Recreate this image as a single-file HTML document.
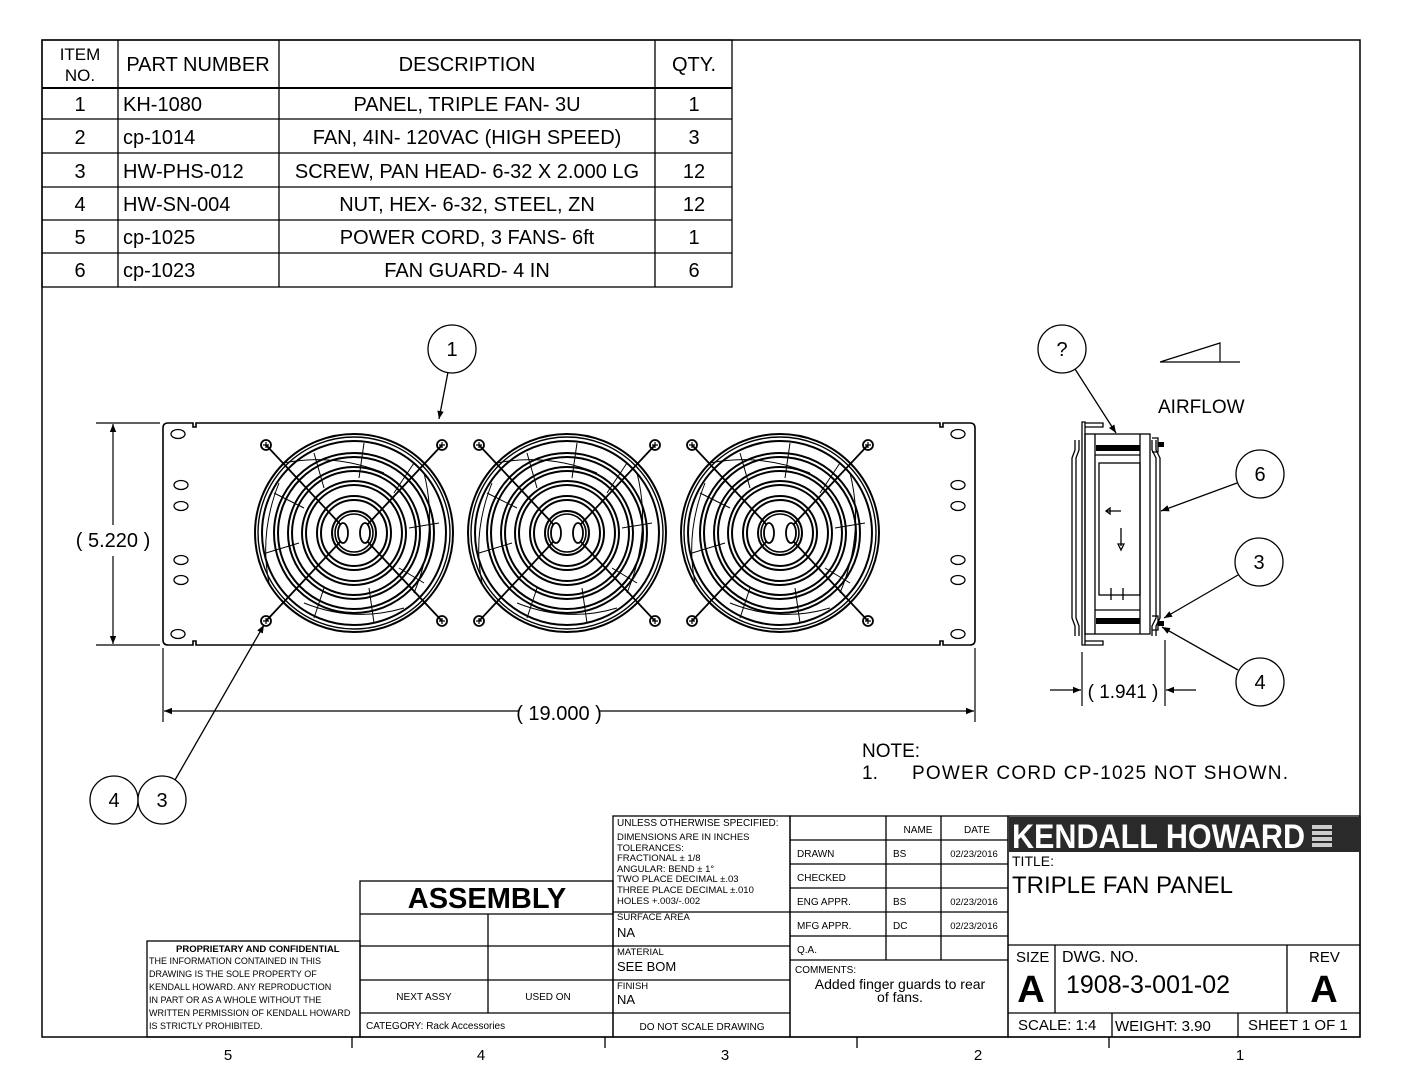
<!DOCTYPE html>
<html><head><meta charset="utf-8"><style>
html,body{margin:0;padding:0;background:#fff;}
svg{display:block;}
text{font-family:"Liberation Sans",sans-serif;fill:#000;}
</style></head><body>
<svg width="1408" height="1088" viewBox="0 0 1408 1088" xmlns="http://www.w3.org/2000/svg">
<defs>
<marker id="ar" viewBox="0 0 10 10" refX="10" refY="5" markerWidth="10" markerHeight="8" orient="auto-start-reverse" markerUnits="userSpaceOnUse"><path d="M0,1 L10,5 L0,9 z" fill="#000"/></marker>
<g id="fan" fill="none" stroke="#000">
  <circle r="99" stroke-width="2"/><circle r="96" stroke-width="1.4"/><circle r="92" stroke-width="2"/>
  <circle r="80" stroke-width="2"/><circle r="76" stroke-width="2"/>
  <circle r="66" stroke-width="2"/><circle r="62" stroke-width="2"/>
  <circle r="52" stroke-width="2"/><circle r="48" stroke-width="2"/>
  <circle r="37" stroke-width="2"/><circle r="33" stroke-width="2"/>
  <circle r="22" stroke-width="2"/><circle r="19" stroke-width="1.6"/>
  <ellipse cx="-11" cy="0" rx="5" ry="10" stroke-width="1.8"/>
  <ellipse cx="11" cy="0" rx="5" ry="10" stroke-width="1.8"/>
  <g stroke-width="1">
    <path d="M-40,-80 L-30,-45 M10,-90 L5,-55 M60,-70 L40,-40 M85,-10 L55,-5 M70,50 L45,35 M20,90 L15,55 M-40,85 L-30,55 M-88,20 L-55,10 M-80,-40 L-50,-25"/>
    <path d="M-70,-70 Q-20,-80 30,-60 M70,-60 Q85,0 60,60 M50,75 Q0,90 -50,70 M-85,50 Q-95,0 -75,-50"/>
  </g>
  <line x1="-88" y1="-88" x2="-14" y2="-9" stroke-width="1.8"/>
  <line x1="88" y1="-88" x2="14" y2="-9" stroke-width="1.8"/>
  <line x1="-88" y1="88" x2="-14" y2="9" stroke-width="1.8"/>
  <line x1="88" y1="88" x2="14" y2="9" stroke-width="1.8"/>
  <g stroke-width="1.8">
    <circle cx="-88" cy="-88" r="5"/><circle cx="88" cy="-88" r="5"/><circle cx="-88" cy="88" r="5"/><circle cx="88" cy="88" r="5"/>
  </g>
  <g stroke-width="1.2">
    <path d="M-91,-88h6M-88,-91v6M85,-88h6M88,-91v6M-91,88h6M-88,85v6M85,88h6M88,85v6"/>
  </g>
</g>
<g id="slot" fill="none" stroke="#000" stroke-width="1.3"><ellipse rx="7" ry="4.5"/></g>
</defs>

<rect x="42" y="40" width="1318" height="997" fill="none" stroke="#000" stroke-width="1.5"/>

<g stroke="#000" stroke-width="1.3" fill="none">
<rect x="42" y="40" width="690" height="247"/>
<line x1="118" y1="40" x2="118" y2="287"/><line x1="279" y1="40" x2="279" y2="287"/><line x1="655" y1="40" x2="655" y2="287"/>
<line x1="42" y1="88" x2="732" y2="88" stroke-width="2"/>
<line x1="42" y1="119" x2="732" y2="119"/><line x1="42" y1="153" x2="732" y2="153"/><line x1="42" y1="187" x2="732" y2="187"/>
<line x1="42" y1="220" x2="732" y2="220"/><line x1="42" y1="253" x2="732" y2="253"/>
</g>
<g font-size="20">
<text x="80" y="60" text-anchor="middle" font-size="17">ITEM</text><text x="80" y="81" text-anchor="middle" font-size="17">NO.</text>
<text x="198" y="71" text-anchor="middle">PART NUMBER</text>
<text x="467" y="71" text-anchor="middle">DESCRIPTION</text>
<text x="694" y="71" text-anchor="middle">QTY.</text>
<text x="80" y="111" text-anchor="middle">1</text><text x="123" y="111">KH-1080</text><text x="467" y="111" text-anchor="middle">PANEL, TRIPLE FAN- 3U</text><text x="694" y="111" text-anchor="middle">1</text>
<text x="80" y="144" text-anchor="middle">2</text><text x="123" y="144">cp-1014</text><text x="467" y="144" text-anchor="middle">FAN, 4IN- 120VAC (HIGH SPEED)</text><text x="694" y="144" text-anchor="middle">3</text>
<text x="80" y="178" text-anchor="middle">3</text><text x="123" y="178">HW-PHS-012</text><text x="467" y="178" text-anchor="middle">SCREW, PAN HEAD- 6-32 X 2.000 LG</text><text x="694" y="178" text-anchor="middle">12</text>
<text x="80" y="211" text-anchor="middle">4</text><text x="123" y="211">HW-SN-004</text><text x="467" y="211" text-anchor="middle">NUT, HEX- 6-32, STEEL, ZN</text><text x="694" y="211" text-anchor="middle">12</text>
<text x="80" y="244" text-anchor="middle">5</text><text x="123" y="244">cp-1025</text><text x="467" y="244" text-anchor="middle">POWER CORD, 3 FANS- 6ft</text><text x="694" y="244" text-anchor="middle">1</text>
<text x="80" y="277" text-anchor="middle">6</text><text x="123" y="277">cp-1023</text><text x="467" y="277" text-anchor="middle">FAN GUARD- 4 IN</text><text x="694" y="277" text-anchor="middle">6</text>
</g>

<g fill="none" stroke="#000" stroke-width="1.6">
<path d="M168,423 H193 v4 h3 v-4 H940 v4 h3 v-4 H970 q5,0 5,5 V640 q0,5 -5,5 H943 v-4 h-3 v4 H196 v-4 h-3 v4 H168 q-5,0 -5,-5 V428 q0,-5 5,-5 z"/>
</g>
<use href="#slot" x="178" y="434"/><use href="#slot" x="181" y="485"/><use href="#slot" x="181" y="506"/><use href="#slot" x="181" y="560"/><use href="#slot" x="181" y="580"/><use href="#slot" x="178" y="634"/>
<use href="#slot" x="958" y="434"/><use href="#slot" x="958" y="485"/><use href="#slot" x="958" y="506"/><use href="#slot" x="958" y="560"/><use href="#slot" x="958" y="580"/><use href="#slot" x="958" y="634"/>
<use href="#fan" x="354" y="533"/>
<use href="#fan" x="567" y="533"/>
<use href="#fan" x="780" y="533"/>

<g stroke="#000" stroke-width="1.2" fill="none">
<line x1="96" y1="423" x2="160" y2="423"/><line x1="96" y1="645" x2="160" y2="645"/>
<line x1="113" y1="424" x2="113" y2="525" marker-start="url(#ar)"/>
<line x1="113" y1="556" x2="113" y2="644" marker-end="url(#ar)"/>
<line x1="163" y1="648" x2="163" y2="722"/><line x1="975" y1="648" x2="975" y2="722"/>
<line x1="164" y1="711" x2="518" y2="711" marker-start="url(#ar)"/>
<line x1="600" y1="711" x2="974" y2="711" marker-end="url(#ar)"/>
</g>
<text x="113" y="547" text-anchor="middle" font-size="20">( 5.220 )</text>
<text x="559" y="720" text-anchor="middle" font-size="20">( 19.000 )</text>

<g fill="#fff" stroke="#000" stroke-width="1.3">
<line x1="448" y1="372" x2="439" y2="419" marker-end="url(#ar)"/>
<circle cx="452" cy="349" r="24"/>
<line x1="175" y1="780" x2="264" y2="625" marker-end="url(#ar)"/>
<circle cx="114" cy="800" r="24"/><circle cx="162" cy="800" r="24"/>
</g>
<g font-size="20" text-anchor="middle">
<text x="452" y="356">1</text><text x="114" y="807">4</text><text x="162" y="807">3</text>
</g>

<g fill="none" stroke="#000" stroke-width="1.3">
<path d="M1082,422 h3 v223 h-3 z"/>
<path d="M1085,423 h18 v4 h-18 M1085,641 h18 v4 h-18"/>
<rect x="1085" y="434" width="65" height="200"/>
<line x1="1095" y1="434" x2="1095" y2="634"/><line x1="1140" y1="434" x2="1140" y2="634"/>
<rect x="1099" y="463" width="41" height="132"/>
<line x1="1095" y1="455" x2="1140" y2="455"/><line x1="1095" y1="610" x2="1140" y2="610"/>
<path d="M1075,440 v10 l-3,8 v160 l3,8 v10 M1079,440 v10 l-3,8 v160 l3,8 v10"/>
<path d="M1152,440 v10 l4,8 v160 l-4,8 v10 M1156,440 v10 l4,8 v160 l-4,8 v10"/>
<path d="M1152,438 h6 v14 h-6 M1152,616 h6 v14 h-6"/>
<path d="M1121,511 h-14 M1110,508 l-4,3 l4,3 z M1121,528 v18 M1118,544 l3,6 l3,-6 z"/>
<path d="M1111,588 v12 M1123,588 v12"/>
</g>
<rect x="1096" y="445" width="44" height="6" fill="#000"/>
<rect x="1096" y="618" width="44" height="6" fill="#000"/>
<rect x="1158" y="442" width="6" height="5" fill="#000"/>
<rect x="1158" y="621" width="6" height="5" fill="#000"/>
<path d="M1160,362 L1220,343 L1220,362 M1160,362 H1240" fill="none" stroke="#000" stroke-width="1.2"/>
<text x="1158" y="413" font-size="19">AIRFLOW</text>
<g stroke="#000" stroke-width="1.2" fill="none">
<line x1="1082" y1="652" x2="1082" y2="706"/><line x1="1165" y1="640" x2="1165" y2="706"/>
<line x1="1050" y1="690" x2="1081" y2="690" marker-end="url(#ar)"/>
<line x1="1196" y1="690" x2="1166" y2="690" marker-end="url(#ar)"/>
</g>
<text x="1123" y="698" text-anchor="middle" font-size="19">( 1.941 )</text>
<g fill="#fff" stroke="#000" stroke-width="1.3">
<line x1="1075" y1="369" x2="1116" y2="433" marker-end="url(#ar)"/>
<line x1="1237" y1="483" x2="1161" y2="511" marker-end="url(#ar)"/>
<line x1="1238" y1="575" x2="1164" y2="618" marker-end="url(#ar)"/>
<line x1="1238" y1="670" x2="1162" y2="627" marker-end="url(#ar)"/>
<circle cx="1062" cy="349" r="24"/>
<circle cx="1260" cy="474" r="24"/><circle cx="1259" cy="562" r="24"/><circle cx="1260" cy="682" r="24"/>
</g>
<g font-size="20" text-anchor="middle">
<text x="1062" y="356">?</text><text x="1260" y="481">6</text><text x="1259" y="569">3</text><text x="1260" y="689">4</text>
</g>

<text x="862" y="757" font-size="19">NOTE:</text>
<text x="862" y="779" font-size="19">1.</text>
<text x="912" y="779" font-size="19" textLength="376" lengthAdjust="spacing">POWER CORD CP-1025 NOT SHOWN.</text>

<g stroke="#000" stroke-width="1.3" fill="none">
<rect x="147" y="941" width="213" height="96"/>
<rect x="360" y="881" width="253" height="156"/>
<line x1="360" y1="914" x2="613" y2="914"/><line x1="360" y1="946" x2="613" y2="946"/><line x1="360" y1="980" x2="613" y2="980"/><line x1="360" y1="1013" x2="613" y2="1013"/>
<line x1="488" y1="914" x2="488" y2="1013"/>
<rect x="613" y="816" width="177" height="221"/>
<line x1="613" y1="912" x2="790" y2="912"/><line x1="613" y1="946" x2="790" y2="946"/><line x1="613" y1="980" x2="790" y2="980"/><line x1="613" y1="1013" x2="790" y2="1013"/>
<rect x="790" y="816" width="218" height="221"/>
<line x1="790" y1="840" x2="1008" y2="840"/><line x1="790" y1="864" x2="1008" y2="864"/><line x1="790" y1="888" x2="1008" y2="888"/><line x1="790" y1="912" x2="1008" y2="912"/><line x1="790" y1="936" x2="1008" y2="936"/><line x1="790" y1="960" x2="1008" y2="960"/>
<line x1="886" y1="816" x2="886" y2="960"/><line x1="941" y1="816" x2="941" y2="960"/>
<rect x="1008" y="816" width="352" height="221"/>
<line x1="1008" y1="945" x2="1360" y2="945"/><line x1="1008" y1="1013" x2="1360" y2="1013"/>
<line x1="1055" y1="945" x2="1055" y2="1013"/><line x1="1287" y1="945" x2="1287" y2="1013"/>
<line x1="1112" y1="1013" x2="1112" y2="1037"/><line x1="1238" y1="1013" x2="1238" y2="1037"/>
<line x1="352" y1="1037" x2="352" y2="1048"/><line x1="605" y1="1037" x2="605" y2="1048"/><line x1="857" y1="1037" x2="857" y2="1048"/><line x1="1109" y1="1037" x2="1109" y2="1048"/>
</g>
<rect x="1009" y="817" width="351" height="35" fill="#2a2a2a"/>
<text x="1012" y="848" font-size="34" font-weight="bold" style="fill:#fff" textLength="293" lengthAdjust="spacingAndGlyphs">KENDALL HOWARD</text>
<g fill="#ccc"><rect x="1312" y="825" width="20" height="4"/><rect x="1312" y="831" width="20" height="4"/><rect x="1312" y="837" width="20" height="4"/><rect x="1312" y="843" width="20" height="4"/></g>

<g font-size="10">
<text x="176" y="952" font-weight="bold" font-size="9.5">PROPRIETARY AND CONFIDENTIAL</text>
<text x="149" y="964" font-size="9">THE INFORMATION CONTAINED IN THIS</text>
<text x="149" y="977" font-size="9">DRAWING IS THE SOLE PROPERTY OF</text>
<text x="149" y="990" font-size="9">KENDALL HOWARD.  ANY REPRODUCTION</text>
<text x="149" y="1003" font-size="9">IN PART OR AS A WHOLE WITHOUT THE</text>
<text x="149" y="1016" font-size="9">WRITTEN PERMISSION OF KENDALL HOWARD</text>
<text x="149" y="1029" font-size="9">IS STRICTLY PROHIBITED.</text>
<text x="487" y="908" font-size="29" font-weight="bold" text-anchor="middle">ASSEMBLY</text>
<text x="424" y="1000" text-anchor="middle">NEXT ASSY</text>
<text x="548" y="1000" text-anchor="middle">USED ON</text>
<text x="366" y="1029">CATEGORY: Rack Accessories</text>
<text x="617" y="826" font-size="10">UNLESS OTHERWISE SPECIFIED:</text>
<text x="617" y="840" font-size="9.5">DIMENSIONS ARE IN INCHES</text>
<text x="617" y="851" font-size="9.5">TOLERANCES:</text>
<text x="617" y="861" font-size="9.5">FRACTIONAL ± 1/8</text>
<text x="617" y="872" font-size="9.5">ANGULAR: BEND ± 1°</text>
<text x="617" y="882" font-size="9.5">TWO PLACE DECIMAL   ±.03</text>
<text x="617" y="893" font-size="9.5">THREE PLACE DECIMAL ±.010</text>
<text x="617" y="904" font-size="9.5">HOLES +.003/-.002</text>
<text x="617" y="920" font-size="9.5">SURFACE AREA</text>
<text x="617" y="937" font-size="13">NA</text>
<text x="617" y="955" font-size="9.5">MATERIAL</text>
<text x="617" y="971" font-size="13">SEE BOM</text>
<text x="617" y="989" font-size="9.5">FINISH</text>
<text x="617" y="1004" font-size="13">NA</text>
<text x="702" y="1030" text-anchor="middle">DO NOT SCALE DRAWING</text>
<text x="918" y="833" text-anchor="middle">NAME</text><text x="977" y="833" text-anchor="middle">DATE</text>
<text x="797" y="857">DRAWN</text><text x="893" y="857">BS</text><text x="974" y="857" text-anchor="middle" font-size="9.5">02/23/2016</text>
<text x="797" y="881">CHECKED</text>
<text x="797" y="905">ENG APPR.</text><text x="893" y="905">BS</text><text x="974" y="905" text-anchor="middle" font-size="9.5">02/23/2016</text>
<text x="797" y="929">MFG APPR.</text><text x="893" y="929">DC</text><text x="974" y="929" text-anchor="middle" font-size="9.5">02/23/2016</text>
<text x="797" y="953">Q.A.</text>
<text x="795" y="973">COMMENTS:</text>
<text x="900" y="989" text-anchor="middle" font-size="14">Added finger guards to rear</text>
<text x="900" y="1002" text-anchor="middle" font-size="14">of fans.</text>
<text x="1012" y="866" font-size="14">TITLE:</text>
<text x="1012" y="893" font-size="24">TRIPLE FAN PANEL</text>
<text x="1016" y="962" font-size="15">SIZE</text>
<text x="1031" y="1002" font-size="38" font-weight="bold" text-anchor="middle">A</text>
<text x="1062" y="962" font-size="16">DWG.  NO.</text>
<text x="1066" y="993" font-size="25">1908-3-001-02</text>
<text x="1309" y="962" font-size="15">REV</text>
<text x="1324" y="1002" font-size="38" font-weight="bold" text-anchor="middle">A</text>
<text x="1018" y="1030" font-size="15">SCALE: 1:4</text>
<text x="1115" y="1031" font-size="15">WEIGHT: 3.90</text>
<text x="1248" y="1030" font-size="15">SHEET 1 OF 1</text>
</g>
<g font-size="15" text-anchor="middle">
<text x="228" y="1060">5</text><text x="481" y="1060">4</text><text x="725" y="1060">3</text><text x="978" y="1060">2</text><text x="1240" y="1060">1</text>
</g>
</svg>
</body></html>
